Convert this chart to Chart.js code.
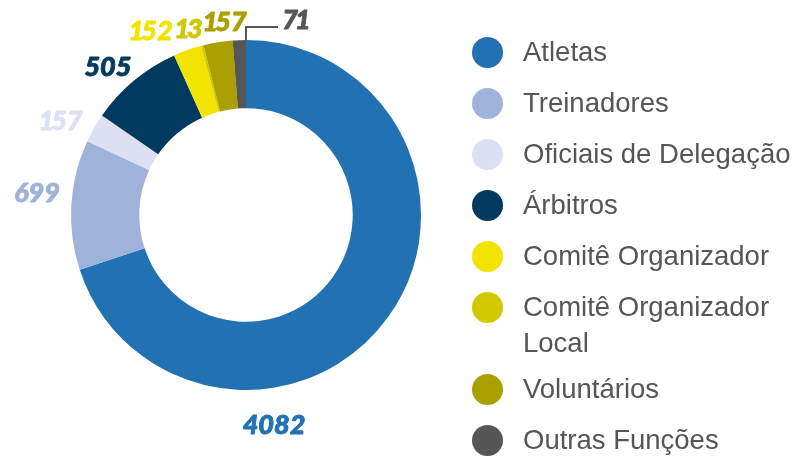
<!DOCTYPE html>
<html>
<head>
<meta charset="utf-8">
<script src="https://cdn.jsdelivr.net/npm/chart.js@4"></script>
<style>
  html, body { margin: 0; padding: 0; background: #ffffff; }
  #wrap { position: relative; width: 792px; height: 457px; overflow: hidden; }
  #c { position: absolute; left: 0; top: 0; }
  #legend { position: absolute; left: 471px; top: 36px; margin: 0; padding: 0; list-style: none;
            font-family: "Liberation Sans", Arial, sans-serif; font-size: 27.5px; color: #555555; white-space: nowrap; }
  #legend li { position: relative; padding-left: 52px; line-height: 32px; margin-bottom: 19px; }
  #legend li.two { margin-bottom: 14px; }
  #legend li span.l2 { display: block; margin-top: 4px; }
  #legend li span.dot { position: absolute; left: 1px; top: 0.5px; width: 31px; height: 31px; border-radius: 50%; }
</style>
</head>
<body>
<div id="wrap">
  <canvas id="c" width="792" height="457"></canvas>
  <ul id="legend"></ul>
</div>
<script>
// ---- data ----
const categories = ["Atletas", "Treinadores", "Oficiais de Delegação", "Árbitros",
                    "Comitê Organizador", "Comitê Organizador Local", "Voluntários", "Outras Funções"];
const values = [4082, 699, 157, 505, 152, 13, 157, 71];
const legendLines = [["Atletas"], ["Treinadores"], ["Oficiais de Delegação"], ["Árbitros"],
                     ["Comitê Organizador"], ["Comitê Organizador", "Local"], ["Voluntários"], ["Outras Funções"]];

// ---- styling ----
const colors = ["#2171b3", "#9fb3da", "#dce0f2", "#003b5f", "#f2e400", "#d2c800", "#a9a000", "#565656"];
// label anchor offsets relative to donut centre, in units of outer radius
const labelOffsets = [[0.16, 1.20], [-1.194, -0.126], [-1.051, -0.537], [-0.789, -0.846],
                      [-0.537, -1.051], [-0.32, -1.063], [-0.114, -1.103], [0.28, -1.114]];

// draw text centred at (x,y) with a narrower advance for the digit "1" (proportional figures)
function drawLabel(ctx, text, x, y) {
  const chars = text.split('');
  const adv = chars.map(ch => ctx.measureText(ch).width * (ch === '1' ? 0.62 : 1));
  const total = adv.reduce((a, b) => a + b, 0);
  let cx = x - total / 2;
  chars.forEach((ch, k) => {
    const w = ctx.measureText(ch).width;
    const px = cx + adv[k] / 2 - w / 2;
    ctx.strokeText(ch, px, y);
    ctx.fillText(ch, px, y);
    cx += adv[k];
  });
}

const labelPlugin = {
  id: 'valueLabels',
  afterDatasetsDraw(chart) {
    const ctx = chart.ctx;
    const meta = chart.getDatasetMeta(0);
    ctx.save();
    ctx.font = 'italic 900 27px Lato, "Open Sans", sans-serif';
    ctx.textAlign = 'left';
    ctx.textBaseline = 'middle';
    ctx.lineJoin = 'round';
    meta.data.forEach((arc, i) => {
      const R = arc.outerRadius;
      const x = arc.x + labelOffsets[i][0] * R;
      const y = arc.y + labelOffsets[i][1] * R;
      ctx.fillStyle = colors[i];
      ctx.strokeStyle = colors[i];
      ctx.lineWidth = 0.9;
      drawLabel(ctx, String(values[i]), x, y);
      if (i === values.length - 1) {
        // leader line from the top of the last segment
        ctx.lineWidth = 2;
        ctx.lineJoin = 'miter';
        ctx.beginPath();
        ctx.moveTo(arc.x, arc.y - R);
        ctx.lineTo(arc.x, arc.y - R - 13);
        ctx.lineTo(arc.x + 32, arc.y - R - 13);
        ctx.stroke();
      }
    });
    ctx.restore();
  }
};

new Chart(document.getElementById('c'), {
  type: 'doughnut',
  data: {
    labels: categories,
    datasets: [{
      data: values,
      backgroundColor: colors,
      borderWidth: 0,
      hoverOffset: 0
    }]
  },
  options: {
    responsive: false,
    animation: false,
    cutout: '61%',
    layout: { padding: { left: 71, top: 40, right: 371, bottom: 67 } },
    plugins: {
      legend: { display: false },
      tooltip: { enabled: false }
    }
  },
  plugins: [labelPlugin]
});

// HTML legend built from the arrays
const ul = document.getElementById('legend');
categories.forEach((c, i) => {
  const li = document.createElement('li');
  const lines = legendLines[i];
  if (lines.length > 1) li.className = 'two';
  const dot = document.createElement('span');
  dot.className = 'dot';
  dot.style.background = colors[i];
  li.appendChild(dot);
  li.appendChild(document.createTextNode(lines[0]));
  for (let k = 1; k < lines.length; k++) {
    const s = document.createElement('span');
    s.className = 'l2';
    s.textContent = lines[k];
    li.appendChild(s);
  }
  ul.appendChild(li);
});
</script>
</body>
</html>
